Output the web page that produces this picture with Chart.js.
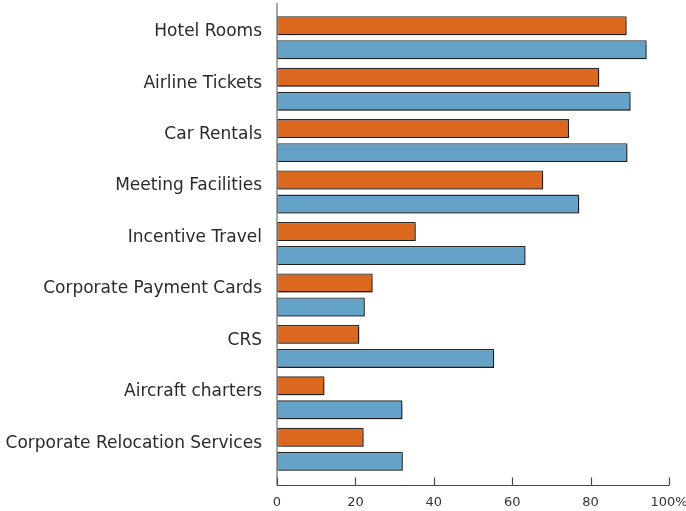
<!DOCTYPE html>
<html>
<head>
<meta charset="utf-8">
<script src="https://cdn.jsdelivr.net/npm/chart.js@4.4.1/dist/chart.umd.min.js"></script>
<style>
  html, body { margin: 0; padding: 0; background: #fff; }
  #wrap { width: 686px; height: 511px; position: relative; }
</style>
</head>
<body>
<div id="wrap"><canvas id="chart"></canvas></div>
<script>
const categories = [
  'Hotel Rooms',
  'Airline Tickets',
  'Car Rentals',
  'Meeting Facilities',
  'Incentive Travel',
  'Corporate Payment Cards',
  'CRS',
  'Aircraft charters',
  'Corporate Relocation Services',
];
const orangeValues = [89.2, 82.2, 74.5, 67.9, 35.4, 24.4, 21.0, 12.1, 22.1];
const blueValues = [94.3, 90.2, 89.4, 77.1, 63.4, 22.4, 55.4, 32.0, 32.1];
const xTicks = [0, 20, 40, 60, 80, 100];

const FONT = "'DejaVu Sans', sans-serif";

// soft drop shadow under the bars
const barShadow = {
  id: 'barShadow',
  beforeDatasetsDraw(chart) {
    const ctx = chart.ctx;
    ctx.save();
    ctx.shadowColor = 'rgba(0,0,0,0.35)';
    ctx.shadowOffsetX = 1.5;
    ctx.shadowOffsetY = 1.5;
    ctx.shadowBlur = 1;
  },
  afterDatasetsDraw(chart) {
    chart.ctx.restore();
  },
};

// axis lines: vertical at zero, bottom line sits a little below the bars with inward ticks
const axisLines = {
  id: 'axisLines',
  afterDraw(chart) {
    const { ctx, chartArea } = chart;
    const x = chart.scales.x;
    const x0 = Math.round(x.getPixelForValue(0));
    const yAxis = Math.round(chartArea.bottom + 10) + 0.5;
    ctx.save();
    ctx.strokeStyle = '#8a8a8a';
    ctx.lineWidth = 1.5;
    ctx.beginPath();
    ctx.moveTo(x0, chartArea.top - 9);
    ctx.lineTo(x0, yAxis);
    ctx.stroke();
    ctx.strokeStyle = '#4a4a4a';
    ctx.lineWidth = 1.2;
    ctx.beginPath();
    ctx.moveTo(x0, yAxis);
    ctx.lineTo(x.getPixelForValue(100), yAxis);
    xTicks.forEach((t) => {
      const px = Math.round(x.getPixelForValue(t)) + 0.5;
      ctx.moveTo(px, yAxis);
      ctx.lineTo(px, yAxis - 8);
    });
    ctx.stroke();
    ctx.restore();
  },
};

const barStyle = {
  borderColor: '#2b2b2b',
  borderWidth: 1.3,
  borderSkipped: false,
  categoryPercentage: 0.934,
  barPercentage: 0.79,
};

new Chart(document.getElementById('chart'), {
  type: 'bar',
  data: {
    labels: categories,
    datasets: [
      { data: orangeValues, backgroundColor: '#dc671f', ...barStyle },
      { data: blueValues, backgroundColor: '#65a2c8', ...barStyle },
    ],
  },
  options: {
    indexAxis: 'y',
    responsive: true,
    maintainAspectRatio: false,
    animation: false,
    layout: { padding: { top: 12, left: 0, right: 0, bottom: 0 } },
    plugins: {
      legend: { display: false },
      tooltip: { enabled: false },
    },
    scales: {
      x: {
        min: 0,
        max: 100,
        afterBuildTicks(scale) {
          scale.ticks = xTicks.map((v) => ({ value: v }));
        },
        // tick padding is otherwise counted twice in the axis height
        // and added to the room kept for the last label
        afterFit(scale) {
          scale.height = 36;
          scale.paddingRight = 17;
        },
        grid: { display: false, drawTicks: false },
        border: { display: false },
        ticks: {
          padding: 20,
          color: '#333',
          font: { family: FONT, size: 13 },
          maxRotation: 0,
          callback: (v) => (v === 100 ? '100%' : String(v)),
        },
      },
      y: {
        // category labels sit mid-band, so no extra edge padding is needed
        afterFit(scale) {
          scale.width = 277;
          scale.paddingTop = 0;
          scale.paddingBottom = 0;
        },
        grid: { display: false, drawTicks: false },
        border: { display: false },
        ticks: {
          padding: 15,
          labelOffset: -6,
          color: '#2a2a2a',
          font: { family: FONT, size: 17 },
        },
      },
    },
  },
  plugins: [barShadow, axisLines],
});
</script>
</body>
</html>
